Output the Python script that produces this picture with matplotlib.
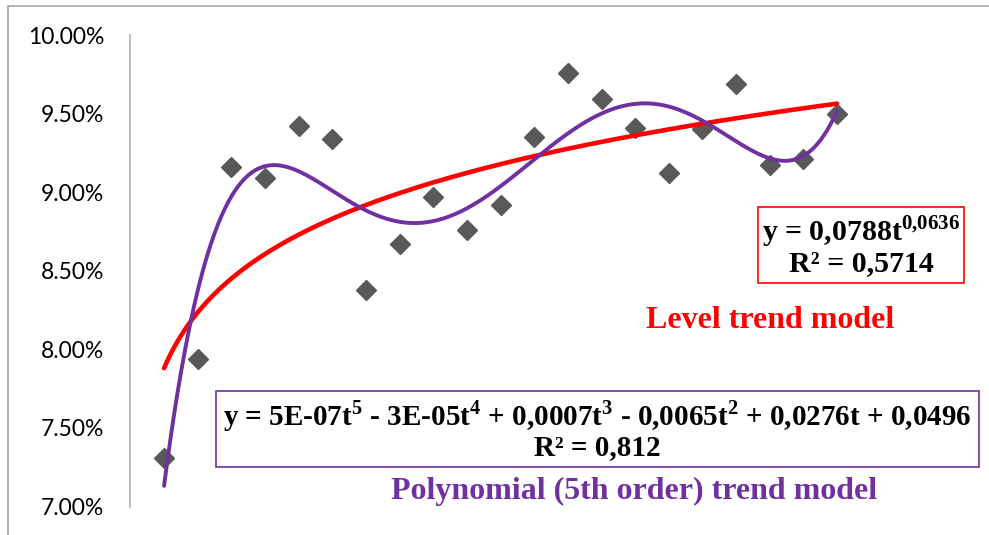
import numpy as np
import matplotlib.pyplot as plt
from matplotlib.patches import Rectangle

plt.rcParams['mathtext.fontset'] = 'custom'
plt.rcParams['mathtext.rm'] = 'Liberation Serif'
plt.rcParams['mathtext.bf'] = 'Liberation Serif:bold'

# observed values (share), t = 1..21
t = np.arange(1, 22)
rate = np.array([7.31, 7.94, 9.16, 9.09, 9.42, 9.34, 8.38, 8.67, 8.97, 8.76, 8.92,
                 9.35, 9.76, 9.59, 9.41, 9.12, 9.40, 9.69, 9.17, 9.21, 9.50]) / 100

# power trend shown in the chart
pow_a, pow_b = 0.0788, 0.0636
power_label = "y = 0,0788t$^{\\mathbf{0{,}0636}}$\nR² = 0,5714"
poly_label = ("y = 5E-07t$^{\\mathbf{5}}$ - 3E-05t$^{\\mathbf{4}}$ + 0,0007t$^{\\mathbf{3}}$"
              " - 0,0065t$^{\\mathbf{2}}$ + 0,0276t + 0,0496\nR² = 0,812")

yticks = [0.07, 0.075, 0.08, 0.085, 0.09, 0.095, 0.10]

W, H = 989, 535
fig = plt.figure(figsize=(W / 100, H / 100), dpi=100)
ax = fig.add_axes([130.4 / W, 28.5 / H, (W - 130.4) / W, (506.5 - 35) / H])

ax.plot(t, rate, linestyle="none", marker="D", markersize=10, color="#595959", zorder=2)

tt = np.linspace(1, 21, 400)
ax.plot(tt, pow_a * tt ** pow_b, color="#FF0000", lw=3.3, solid_capstyle="round", zorder=3)

coef = np.polyfit(t, rate, 5)
ax.plot(tt, np.polyval(coef, tt), color="#7030A0", lw=2.8, solid_capstyle="round", zorder=4)

ax.set_xlim(0, (W - 130.4) / 33.65)
ax.set_ylim(0.07, 0.10)
ax.set_yticks(yticks)
ax.set_yticklabels([f"{v * 100:.2f}%" for v in yticks], fontfamily="Lato", fontsize=16.5)
ax.tick_params(axis="y", length=0, pad=19)
ax.set_xticks([])
for s in ["top", "right", "bottom"]:
    ax.spines[s].set_visible(False)
ax.spines["left"].set_color("#B0B0B0")
ax.spines["left"].set_linewidth(1.2)

serif = dict(fontfamily="Liberation Serif", fontweight="bold", transform=None)

def px(x, y):
    return x, H - y

# power box
fig.patches.append(Rectangle(px(757.7, 282.5), 206.6, 75.5, fill=False,
                             edgecolor="#FF0000", lw=1.2, transform=None))
fig.text(*px(861, 245), power_label, ha="center", va="center", fontsize=21.5,
         color="black", linespacing=1.0, **serif)
fig.text(*px(770, 321), "Level trend model", ha="center", va="center", fontsize=23,
         color="#FF0000", **serif)

# polynomial box
fig.patches.append(Rectangle(px(216, 466.7), 763, 75.4, fill=False,
                             edgecolor="#7030A0", lw=1.2, transform=None))
fig.text(*px(597, 430), poly_label, ha="center", va="center", fontsize=21,
         color="black", linespacing=1.0, **serif)
fig.text(*px(634, 491), "Polynomial (5th order) trend model", ha="center", va="center",
         fontsize=23, color="#7030A0", **serif)

# chart area border
fig.patches.append(Rectangle((8, -20), 1100, H - 5.7 + 20, fill=False,
                             edgecolor="#A0A0A0", lw=1.1, transform=None))

fig.savefig("out.png", dpi=100)
